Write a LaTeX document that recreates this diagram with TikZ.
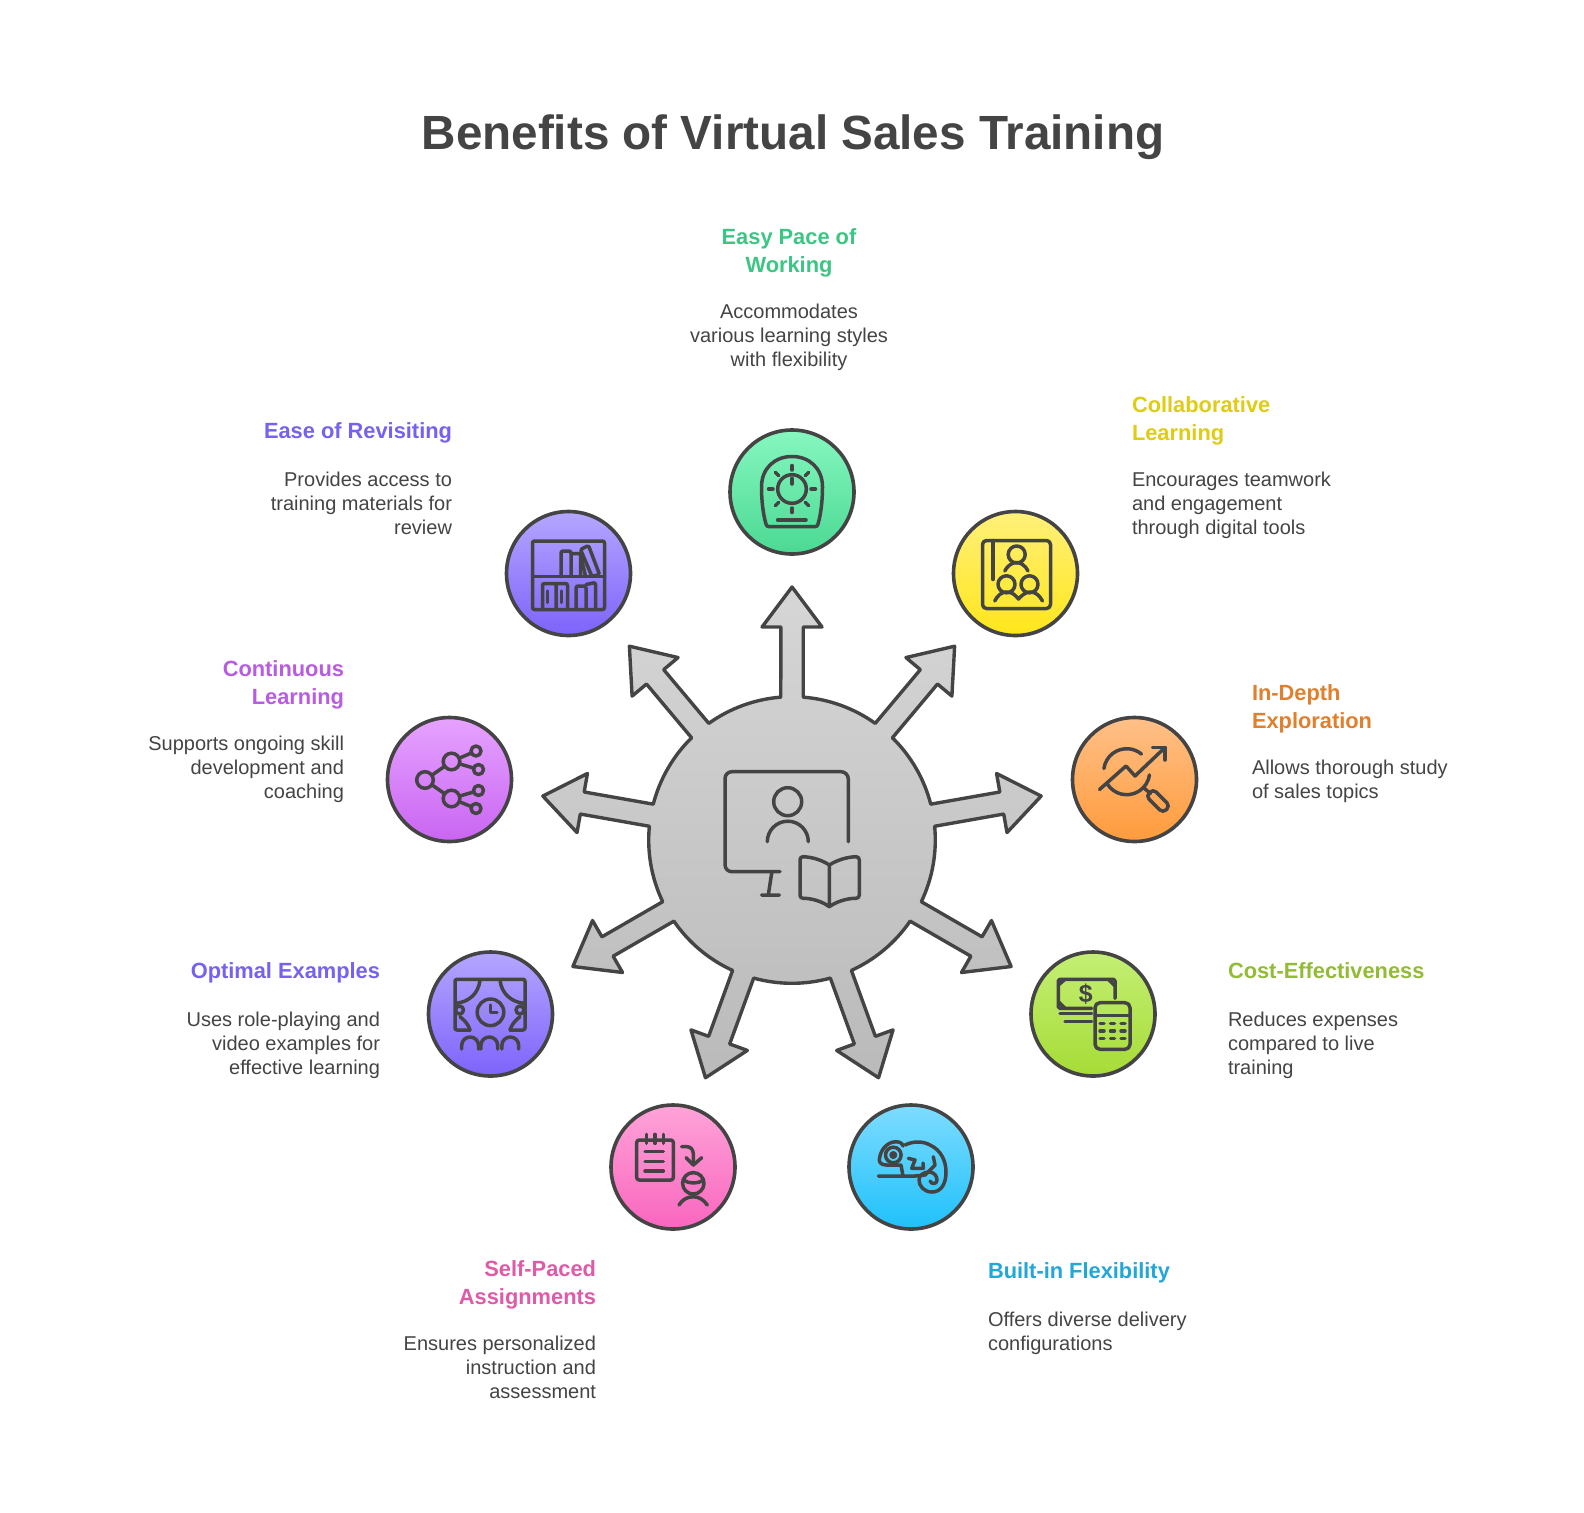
\documentclass[tikz,border=0pt]{standalone}
\usepackage{fontspec}
\setmainfont[BoldFeatures={FakeStretch=0.992}]{Liberation Sans}
\usetikzlibrary{calc}
\definecolor{ink}{HTML}{444444}
\definecolor{cGreen}{HTML}{3CC583}
\definecolor{cYellow}{HTML}{E0CB15}
\definecolor{cViolet}{HTML}{7562F0}
\definecolor{cLilac}{HTML}{B85CE2}
\definecolor{cOrange}{HTML}{E0802E}
\definecolor{cLime}{HTML}{93BC36}
\definecolor{cBlue}{HTML}{22A7D8}
\definecolor{cPink}{HTML}{DF5BA8}
\definecolor{dGreenT}{HTML}{86F7C0}\definecolor{dGreenB}{HTML}{4BD993}
\definecolor{dYellowT}{HTML}{FFF07A}\definecolor{dYellowB}{HTML}{FFE61A}
\definecolor{dVioletT}{HTML}{B5A6FF}\definecolor{dVioletB}{HTML}{7E63FB}
\definecolor{dOrangeT}{HTML}{FFC088}\definecolor{dOrangeB}{HTML}{FF9B3C}
\definecolor{dLilacT}{HTML}{E6A3FF}\definecolor{dLilacB}{HTML}{C965F2}
\definecolor{dLimeT}{HTML}{C4EF75}\definecolor{dLimeB}{HTML}{A6DC36}
\definecolor{dBlueT}{HTML}{7EDCFF}\definecolor{dBlueB}{HTML}{1FC1FB}
\definecolor{dPinkT}{HTML}{FFA3D8}\definecolor{dPinkB}{HTML}{F966BE}
\definecolor{hubT}{HTML}{D6D6D6}\definecolor{hubB}{HTML}{BABABA}
\tikzset{
  x=1pt,y=-1pt,
  disc/.style={circle,draw=ink,line width=3.6pt,minimum size=124pt,inner sep=0pt,outer sep=0pt},
  ico/.style={draw=ink,line width=3.5pt,line cap=round,line join=round},
  head/.style={inner sep=0pt,outer sep=0pt,font=\fontsize{22}{28}\selectfont\bfseries},
  body/.style={inner sep=0pt,outer sep=0pt,text=ink,font=\fontsize{20}{24}\selectfont},
  spoke/.style={insert path={
    -- ([rotate=#1]213,-11.2) -- ([rotate=#1]213,-30) -- ([rotate=#1]253,0)
    -- ([rotate=#1]213,30) -- ([rotate=#1]213,11.2) -- (#1+4.49:143.3)
    arc[start angle=#1+4.49,delta angle=31.02,radius=143.3]}},
}
\begin{document}
\begin{tikzpicture}
\useasboundingbox (0,0) rectangle (1584,1512);
\fill[white] (0,0) rectangle (1584,1512);

\node[anchor=base,inner sep=0pt,text=ink,font=\fontsize{48}{56}\selectfont\bfseries] (title) at (793,149) {Benefits of Virtual Sales Training};

% hub and arrows
\coordinate (hub) at (792,840);
\begin{scope}[shift={(hub)},x=1pt,y=1pt]
\path[draw=ink,line width=3.4pt,line join=round,top color=hubT,bottom color=hubB]
  (90-4.49:143.3) [spoke=90,spoke=130,spoke=170,spoke=210,spoke=250,spoke=290,spoke=330,spoke=10,spoke=50] -- cycle;
\end{scope}
% hub icon
\draw[ico] (848.3,841.7) -- (848.3,779) arc[start angle=0,end angle=90,radius=7.3,y radius=-7.3] -- (732,771.7)
  .. controls (728,771.7) and (725,774.7) .. (725,778.7) -- (725,864.7) .. controls (725,868.7) and (728,871.7) .. (732,871.7) -- (780,871.7);
\draw[ico] (771.7,873) -- (768.3,895) (761.7,895) -- (779.3,895);
\draw[ico] (787.7,801.7) circle[radius=14];
\draw[ico] (767.3,841.7) arc[start angle=180,end angle=0,radius=20.5,y radius=-20.5];
\draw[ico] (829.3,865) .. controls (822,860) and (812,857) .. (803,856.7) .. controls (801,856.7) and (800,858) .. (800,860)
  -- (800,895) .. controls (800,897) and (801,898.3) .. (803,898.3) .. controls (813,898.3) and (823,902) .. (829.3,906.7)
  .. controls (836,902) and (846,898.3) .. (856,898.3) .. controls (858,898.3) and (859.3,897) .. (859.3,895)
  -- (859.3,860) .. controls (859.3,858) and (858,856.7) .. (856,856.7) .. controls (847,857) and (837,860) .. (829.3,865) -- (829.3,906.7);

% discs
\node[disc,top color=dGreenT,bottom color=dGreenB] (dGreen) at (792,492) {};
\node[disc,top color=dYellowT,bottom color=dYellowB] (dYellow) at (1015.5,573.5) {};
\node[disc,top color=dVioletT,bottom color=dVioletB] (dShelf) at (568.5,573.5) {};
\node[disc,top color=dOrangeT,bottom color=dOrangeB] (dOrange) at (1134.5,779.5) {};
\node[disc,top color=dLilacT,bottom color=dLilacB] (dLilac) at (449.5,779.5) {};
\node[disc,top color=dLimeT,bottom color=dLimeB] (dLime) at (1093,1014) {};
\node[disc,top color=dVioletT,bottom color=dVioletB] (dStage) at (490.5,1014) {};
\node[disc,top color=dBlueT,bottom color=dBlueB] (dBlue) at (911,1167) {};
\node[disc,top color=dPinkT,bottom color=dPinkB] (dPink) at (673,1167) {};

% green icon: dial
\begin{scope}[shift={(dGreen.center)}]
\draw[ico] (-26,32) .. controls (-29,22) and (-30.5,8) .. (-30.5,-5) .. controls (-30.5,-24) and (-17,-35.5) .. (0,-35.5)
 .. controls (17,-35.5) and (30.5,-24) .. (30.5,-5) .. controls (30.5,8) and (29,22) .. (26,32)
 .. controls (25.5,34) and (24.5,34.7) .. (23,34.7) -- (-23,34.7) .. controls (-24.5,34.7) and (-25.5,34) .. (-26,32) -- cycle;
\draw[ico] (-14.3,28) -- (14,28);
\draw[ico] (0,-3) circle[radius=14.3];
\draw[ico] (0,-13.7) -- (0,-8);
\foreach \a in {0,45,...,315} \draw[ico] ($(0,-3)+(\a:19)$) -- ($(0,-3)+(\a:23.5)$);
\end{scope}

% yellow icon: group book
\begin{scope}[shift={(dYellow.center)}]
\draw[ico,rounded corners=4pt] (-33,-33) rectangle (35,35);
\draw[ico] (-22.5,-33) -- (-22.5,6);
\draw[ico] (1.2,-19) circle[radius=8.5];
\draw[ico] (-10.8,-2.5) .. controls (-8,-8) and (-3,-11) .. (0.8,-11) .. controls (5,-11) and (10,-8) .. (12.5,-2.5);
\draw[ico] (-9,10.8) circle[radius=8.5];
\draw[ico] (14,10.8) circle[radius=8.5];
\draw[ico] (-20.8,27.5) .. controls (-18,22) and (-14,18.5) .. (-9,18.5) .. controls (-3,18.5) and (0,22) .. (3,25.5)
  .. controls (6,22) and (10,18.5) .. (15,18.5) .. controls (20,18.5) and (24,22) .. (27,27.5);
\end{scope}

% violet icon: bookshelf
\begin{scope}[shift={(dShelf.center)}]
\draw[ico,rounded corners=2pt] (-36,-32.5) rectangle (36,36);
\draw[ico] (-36,3) -- (36,3);
\draw[ico,rounded corners=2pt] (-7.5,3) -- (-7.5,-22.5) -- (2.5,-22.5) -- (2.5,3);
\draw[ico,rounded corners=2pt] (2.5,-20) -- (12,-20) -- (12,3);
\draw[ico,rounded corners=1.5pt] (12,-24) -- (20,-28) -- (31,1) -- (23.5,3) -- cycle;
\draw[ico] (12.5,-17) -- (17,3);
\draw[ico,rounded corners=2pt] (-26,36) -- (-26,10) -- (-12.5,10) -- (-12.5,36);
\draw[ico,rounded corners=2pt] (-12.5,10) -- (-1,10) -- (-1,36);
\draw[ico] (-21,17.5) -- (-21,29);
\draw[ico] (-7,17.5) -- (-7,29);
\draw[ico,rounded corners=2pt] (7.5,36) -- (7.5,12.5) -- (17.5,12.5) -- (17.5,36);
\draw[ico,rounded corners=2pt] (17.5,11) -- (27,9) -- (27,36);
\end{scope}

% orange icon: magnifier with trend
\begin{scope}[shift={(dOrange.center)}]
\draw[ico] ($(-7.8,-7.8)+(-172:23)$) arc[start angle=-172,end angle=-50,radius=23];
\draw[ico] ($(-7.8,-7.8)+(148:23)$) arc[start angle=148,end angle=8,radius=23];
\draw[ico] (-35,10) -- (-8.5,-13.5) -- (0.5,-3.5) -- (30.5,-32);
\draw[ico] (18,-32) -- (30.5,-32) -- (30.5,-19.5);
\draw[ico] (10,9) -- (16,14);
\begin{scope}[shift={(15,13)},rotate=-45]
\draw[ico,rounded corners=4.4pt] (0,-5) rectangle (24,5);
\end{scope}
\end{scope}

% lilac icon: network
\begin{scope}[shift={(dLilac.center)}]
\draw[ico] (-24.5,0.5) circle[radius=8.3] (2,-18) circle[radius=8.3] (2,19) circle[radius=8.3];
\draw[ico] (26.5,-28.5) circle[radius=5] (29,-10) circle[radius=5] (29,11) circle[radius=5] (26.5,29) circle[radius=5];
\draw[ico,shorten <=8.3pt,shorten >=8.3pt] (-24.5,0.5) -- (2,-18);
\draw[ico,shorten <=8.3pt,shorten >=8.3pt] (-24.5,0.5) -- (2,19);
\draw[ico,shorten <=8.3pt,shorten >=5pt] (2,-18) -- (26.5,-28.5);
\draw[ico,shorten <=8.3pt,shorten >=5pt] (2,-18) -- (29,-10);
\draw[ico,shorten <=8.3pt,shorten >=5pt] (2,19) -- (29,11);
\draw[ico,shorten <=8.3pt,shorten >=5pt] (2,19) -- (26.5,29);
\end{scope}

% violet icon: stage
\begin{scope}[shift={(dStage.center)}]
\draw[ico,rounded corners=2pt] (-20.5,16) -- (-35.5,16) -- (-35.5,-34.7) -- (34.5,-34.7) -- (34.5,16) -- (19.5,16);
\draw[ico] (-10.5,-34) .. controls (-12,-20) and (-22,-12) .. (-34.5,-10.7);
\draw[ico] (9.5,-34) .. controls (11,-20) and (21,-12) .. (33.5,-10.7);
\draw[ico] (-30.5,2.7) .. controls (-25,7) and (-22,11) .. (-20.5,16);
\draw[ico] (29.5,2.7) .. controls (24,7) and (21,11) .. (19.5,16);
\draw[ico] (-31,-4) circle[radius=4] (29.5,-4) circle[radius=4];
\draw[ico] (0,-1.7) circle[radius=13.3];
\draw[ico] (0,-9) -- (0,-1.7) -- (6.5,-1.7);
\draw[ico] (-28.8,35) -- (-28.8,31.4) arc[start angle=180,end angle=0,radius=8.4,y radius=-8.4] -- (-12,35);
\draw[ico] (-9.6,35) -- (-9.6,31.4) arc[start angle=180,end angle=0,radius=8.4,y radius=-8.4] -- (7.2,35);
\draw[ico] (11.4,35) -- (11.4,31.4) arc[start angle=180,end angle=0,radius=8.4,y radius=-8.4] -- (28.2,35);
\end{scope}

% lime icon: cash and calculator
\begin{scope}[shift={(dLime.center)}]
\draw[ico,rounded corners=1.5pt] (22,-15.7) -- (22,-34.7) -- (-34.7,-34.7) -- (-34.7,-5.7) -- (-1.3,-5.7);
\draw[ico] (-34.7,-29) -- (-28,-34.7) (15.3,-34.7) -- (22,-28) (-34.7,-12.3) -- (-28,-5.7);
\node[inner sep=0pt,text=ink,font=\fontsize{25}{25}\selectfont\bfseries] (dollar) at (-7.3,-19.5) {\$};
\draw[ico] (-33,-0.7) -- (-1.3,-0.7) (-28,7.7) -- (-1.3,7.7);
\draw[ico,rounded corners=5pt] (2,-11.3) rectangle (37,35.3);
\draw[ico] (2,1.5) -- (37,1.5);
\foreach \y in {9.5,17,24.5} \foreach \x in {9,19.5,30} \draw[ico] (\x-2,\y) -- (\x+2,\y);
\end{scope}

% pink icon: assignment
\begin{scope}[shift={(dPink.center)}]
\draw[ico,rounded corners=2.5pt] (-36.3,-27) rectangle (0.3,13);
\draw[ico] (-26.3,-32.7) -- (-26.3,-23.7) (-18,-32.7) -- (-18,-23.7) (-9.7,-32.7) -- (-9.7,-23.7);
\draw[ico] (-28,-15.3) -- (-9.7,-15.3) (-28,-5.3) -- (-9.7,-5.3) (-28,4) -- (-9.7,4);
\draw[ico] (8.7,-20.3) -- (14,-20.3) .. controls (18,-20.3) and (20.3,-17) .. (20.3,-13) -- (20.3,-2);
\draw[ico] (13,-9.3) -- (20.3,-2) -- (28.7,-9.3);
\draw[ico] (20.3,16.3) circle[radius=10.7];
\draw[ico] (10.3,13) .. controls (16,17) and (25,17) .. (30.5,13);
\draw[ico] (6,38) .. controls (9,33) and (14,29.7) .. (20.3,29.7) .. controls (26,29.7) and (31,33) .. (34.3,38);
\end{scope}

% blue icon: chameleon
\begin{scope}[shift={(dBlue.center)}]
\draw[ico] (-24.3,-2) .. controls (-29,-2) and (-31.7,-4) .. (-31.7,-7) .. controls (-31,-16) and (-25,-25) .. (-15,-25.3)
  .. controls (-11,-25.3) and (-8,-23) .. (-8,-21);
\draw[ico] (-6,-22) .. controls (2,-26) and (12,-26) .. (19,-22) .. controls (30,-17) and (35,-6) .. (35,5)
  .. controls (35,17) and (30,25) .. (21,25) .. controls (13,25) and (8,19) .. (8,13) .. controls (8,8) and (13,5) .. (18,5)
  .. controls (23,5) and (26,9) .. (26,13) .. controls (26,17) and (21,18) .. (19,14);
\draw[ico] (-17.7,-12) circle[radius=7.8];
\draw[ico] (-17.7,-12) circle[radius=2.2];
\draw[ico] (-24.3,-2) -- (-10,-2) -- (-8,9);
\draw[ico] (-32.7,9) -- (4,9) (4,9) -- (14,8);
\draw[ico] (-2.7,-8.7) -- (4,-7) -- (0.7,1.3) -- (12.3,1.3) -- (12,-4);
\draw[ico] (22.3,-10.3) -- (24,-2) -- (14,8);
\end{scope}

% texts
\node[head,text=cGreen,anchor=north,align=center] (tGreen) at (789,224.9) {\strut Easy Pace of\\\strut Working};
\node[body,anchor=north,align=center] (bGreen) at (789,301.3) {\strut Accommodates\\\strut various learning styles\\\strut with flexibility};

\node[head,text=cYellow,anchor=north west,align=left] (tYellow) at (1132,392.9) {\strut Collaborative\\\strut Learning};
\node[body,anchor=north west,align=left] (bYellow) at (1132,469.2) {\strut Encourages teamwork\\\strut and engagement\\\strut through digital tools};

\node[head,text=cViolet,anchor=north east,align=right] (tShelf) at (452,419) {\strut Ease of Revisiting};
\node[body,anchor=north east,align=right] (bShelf) at (452,469.2) {\strut Provides access to\\\strut training materials for\\\strut review};

\node[head,text=cLilac,anchor=north east,align=right] (tLilac) at (344,656.9) {\strut Continuous\\\strut Learning};
\node[body,anchor=north east,align=right] (bLilac) at (344,733.2) {\strut Supports ongoing skill\\\strut development and\\\strut coaching};

\node[head,text=cOrange,anchor=north west,align=left] (tOrange) at (1252,680.9) {\strut In-Depth\\\strut Exploration};
\node[body,anchor=north west,align=left] (bOrange) at (1252,757.2) {\strut Allows thorough study\\\strut of sales topics};

\node[head,text=cLime,anchor=north west,align=left] (tLime) at (1228,958.9) {\strut Cost-Effectiveness};
\node[body,anchor=north west,align=left] (bLime) at (1228,1009.2) {\strut Reduces expenses\\\strut compared to live\\\strut training};

\node[head,text=cViolet,anchor=north east,align=right] (tStage) at (380,958.9) {\strut Optimal Examples};
\node[body,anchor=north east,align=right] (bStage) at (380,1009.2) {\strut Uses role-playing and\\\strut video examples for\\\strut effective learning};

\node[head,text=cBlue,anchor=north west,align=left] (tBlue) at (988,1258.9) {\strut Built-in Flexibility};
\node[body,anchor=north west,align=left] (bBlue) at (988,1309.2) {\strut Offers diverse delivery\\\strut configurations};

\node[head,text=cPink,anchor=north east,align=right] (tPink) at (596,1256.9) {\strut Self-Paced\\\strut Assignments};
\node[body,anchor=north east,align=right] (bPink) at (596,1333.2) {\strut Ensures personalized\\\strut instruction and\\\strut assessment};
\end{tikzpicture}
\end{document}
